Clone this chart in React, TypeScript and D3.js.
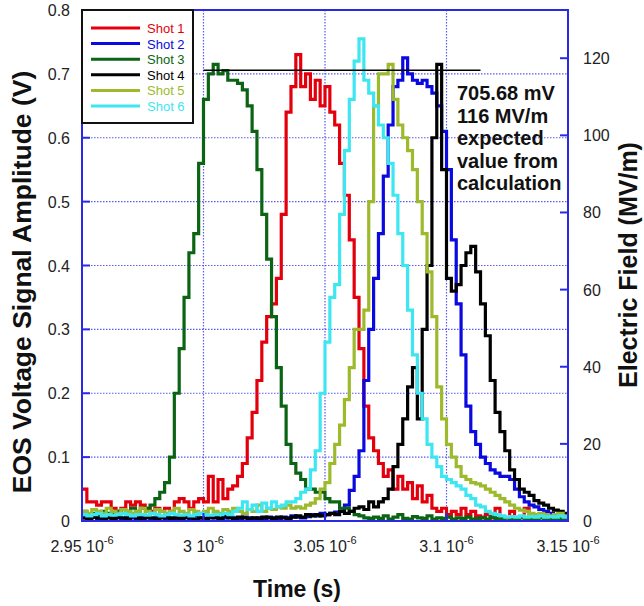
import React from "react";
import * as d3 from "d3";

// time grid (ns), 2 ns sampling from 2950 ns to 3150 ns
const timeNs: number[] = d3.range(2950, 3151, 2);

const shot1: number[] = [
  0.05, 0.03, 0.03, 0.025, 0.03, 0.03, 0.02, 0.015, 0.02, 0.03,
  0.025, 0.03, 0.025, 0.02, 0.015, 0.02, 0.015, 0.02, 0.015, 0.03,
  0.035, 0.03, 0.02, 0.03, 0.035, 0.03, 0.07, 0.03, 0.065, 0.035,
  0.05, 0.055, 0.07, 0.09, 0.13, 0.17, 0.22, 0.28, 0.32, 0.34,
  0.38, 0.48, 0.64, 0.68, 0.73, 0.68, 0.70, 0.66, 0.69, 0.65,
  0.68, 0.64, 0.62, 0.56, 0.51, 0.44, 0.35, 0.27, 0.18, 0.13,
  0.11, 0.09, 0.07, 0.08, 0.05, 0.07, 0.05, 0.06, 0.035, 0.055,
  0.03, 0.04, 0.02, 0.015, 0.02, 0.01, 0.015, 0.01, 0.02, 0.01,
  0.015, 0.008, 0.006, 0.01, 0.005, 0.02, 0.006, 0.005, 0.015, 0.005,
  0.006, 0.02, 0.005, 0.004, 0.01, 0.005, 0.004, 0.008, 0.005, 0.004,
  0.005,
];

const shot2: number[] = [
  0.005, 0.004, 0.006, 0.003, 0.005, 0.008, 0.004, 0.005, 0.003, 0.006,
  0.005, 0.004, 0.007, 0.005, 0.003, 0.005, 0.006, 0.004, 0.005, 0.003,
  0.006, 0.005, 0.004, 0.008, 0.005, 0.003, 0.005, 0.006, 0.004, 0.005,
  0.007, 0.005, 0.004, 0.006, 0.005, 0.003, 0.005, 0.004, 0.006, 0.005,
  0.004, 0.006, 0.005, 0.008, 0.006, 0.005, 0.007, 0.01, 0.008, 0.012,
  0.01, 0.012, 0.014, 0.015, 0.025, 0.048, 0.07, 0.11, 0.22, 0.3,
  0.38, 0.45, 0.54, 0.62, 0.68, 0.69, 0.725, 0.70, 0.69, 0.685,
  0.69, 0.68, 0.67, 0.65, 0.61, 0.55, 0.44, 0.34, 0.26, 0.18,
  0.14, 0.12, 0.1, 0.09, 0.08, 0.075, 0.07, 0.07, 0.065, 0.05,
  0.038, 0.03, 0.025, 0.022, 0.018, 0.015, 0.012, 0.01, 0.008, 0.006,
  0.005,
];

const shot3: number[] = [
  0.015, 0.01, 0.012, 0.01, 0.015, 0.012, 0.01, 0.015, 0.012, 0.015,
  0.02, 0.015, 0.02, 0.02, 0.025, 0.035, 0.045, 0.06, 0.1, 0.2,
  0.27, 0.35, 0.42, 0.45, 0.56, 0.66, 0.70, 0.715, 0.70, 0.705,
  0.69, 0.69, 0.685, 0.675, 0.65, 0.61, 0.55, 0.48, 0.41, 0.32,
  0.24, 0.18, 0.12, 0.09, 0.075, 0.065, 0.05, 0.05, 0.045, 0.045,
  0.035, 0.03, 0.03, 0.02, 0.02, 0.015, 0.01, 0.008, 0.005, 0.004,
  0.006, 0.004, 0.008, 0.003, 0.006, 0.01, 0.004, 0.003, 0.007, 0.005,
  0.004, 0.008, 0.003, 0.005, 0.004, 0.006, 0.003, 0.005, 0.004, 0.006,
  0.003, 0.004, 0.005, 0.003, 0.006, 0.004, 0.003, 0.005, 0.004, 0.003,
  0.005, 0.004, 0.003, 0.004, 0.005, 0.003, 0.004, 0.003, 0.004, 0.005,
  0.003,
];

const shot4: number[] = [
  0.005, 0.004, 0.006, 0.005, 0.003, 0.005, 0.004, 0.006, 0.005, 0.004,
  0.008, 0.005, 0.004, 0.006, 0.005, 0.003, 0.005, 0.006, 0.004, 0.005,
  0.004, 0.006, 0.005, 0.003, 0.005, 0.004, 0.006, 0.005, 0.004, 0.008,
  0.005, 0.004, 0.006, 0.005, 0.003, 0.005, 0.004, 0.006, 0.005, 0.004,
  0.006, 0.005, 0.004, 0.006, 0.008, 0.006, 0.01, 0.008, 0.01, 0.008,
  0.01, 0.012, 0.01, 0.015, 0.012, 0.015, 0.02, 0.022, 0.018, 0.03,
  0.022, 0.03, 0.035, 0.05, 0.085, 0.12, 0.16, 0.21, 0.24, 0.16,
  0.3, 0.4, 0.6, 0.715, 0.55, 0.38, 0.36, 0.37, 0.4, 0.42,
  0.43, 0.39, 0.34, 0.29, 0.22, 0.17, 0.14, 0.11, 0.08, 0.065,
  0.05, 0.045, 0.04, 0.032, 0.028, 0.025, 0.02, 0.017, 0.015, 0.012,
  0.01,
];

const shot5: number[] = [
  0.015, 0.012, 0.018, 0.015, 0.012, 0.02, 0.015, 0.012, 0.018, 0.015,
  0.012, 0.015, 0.02, 0.015, 0.012, 0.018, 0.015, 0.012, 0.015, 0.02,
  0.015, 0.012, 0.018, 0.015, 0.012, 0.015, 0.02, 0.015, 0.012, 0.018,
  0.015, 0.02, 0.015, 0.012, 0.018, 0.015, 0.025, 0.015, 0.02, 0.018,
  0.022, 0.02, 0.025, 0.02, 0.022, 0.02, 0.025, 0.028, 0.035, 0.05,
  0.06, 0.09, 0.12, 0.15, 0.19, 0.24, 0.3, 0.3, 0.33, 0.5,
  0.65, 0.70, 0.70, 0.715, 0.66, 0.62, 0.6, 0.58, 0.55, 0.5,
  0.45, 0.39, 0.32, 0.21, 0.16, 0.12, 0.1, 0.085, 0.07, 0.065,
  0.06, 0.058, 0.055, 0.05, 0.045, 0.04, 0.035, 0.03, 0.025, 0.02,
  0.017, 0.015, 0.012, 0.01, 0.012, 0.01, 0.008, 0.01, 0.012, 0.008,
  0.01,
];

const shot6: number[] = [
  0.01, 0.008, 0.01, 0.012, 0.008, 0.01, 0.009, 0.01, 0.012, 0.01,
  0.008, 0.01, 0.01, 0.009, 0.012, 0.01, 0.008, 0.01, 0.012, 0.01,
  0.009, 0.01, 0.008, 0.01, 0.012, 0.01, 0.009, 0.01, 0.01, 0.012,
  0.01, 0.015, 0.02, 0.03, 0.018, 0.025, 0.015, 0.028, 0.02, 0.03,
  0.022, 0.025, 0.03, 0.03, 0.035, 0.045, 0.05, 0.08, 0.11, 0.2,
  0.28, 0.35, 0.37, 0.48, 0.58, 0.66, 0.72, 0.755, 0.69, 0.67,
  0.65, 0.62, 0.6, 0.56, 0.51, 0.45, 0.4, 0.33, 0.26, 0.2,
  0.16, 0.12, 0.1, 0.085, 0.07, 0.065, 0.06, 0.055, 0.05, 0.04,
  0.035, 0.025, 0.022, 0.015, 0.012, 0.01, 0.008, 0.006, 0.007, 0.006,
  0.008, 0.006, 0.007, 0.006, 0.008, 0.006, 0.007, 0.006, 0.008, 0.006,
  0.007,
];

const seriesNames: string[] = ["Shot 1", "Shot 2", "Shot 3", "Shot 4", "Shot 5", "Shot 6"];
const seriesValues: number[][] = [shot1, shot2, shot3, shot4, shot5, shot6];
const seriesColors: string[] = ["#e3000c", "#0a0ae0", "#0b6414", "#000000", "#9cba2c", "#3ee6f2"];

const xTickValues: number[] = [2950, 3000, 3050, 3100, 3150];
const xTickLabels: string[] = ["2.95", "3", "3.05", "3.1", "3.15"];
const yLeftTicks: number[] = [0, 0.1, 0.2, 0.3, 0.4, 0.5, 0.6, 0.7, 0.8];
const yRightTicks: number[] = [0, 20, 40, 60, 80, 100, 120];

const expectedV = 0.70568;
const expectedLineStartNs = 3000;
const expectedLineEndNs = 3114;
const annotationLines: string[] = ["705.68 mV", "116 MV/m", "expected", "value from", "calculation"];

const W = 644;
const H = 606;
const L = 82, R = 568, T = 10, B = 521;
const FONT = "'Liberation Sans', Arial, Helvetica, sans-serif";
const AXIS_BLUE = "#2a2ae6";
const GRID_BLUE = "#5a5af0";

export default function App() {
  const x = d3.scaleLinear().domain([2950, 3150]).range([L, R]);
  const y = d3.scaleLinear().domain([0, 0.8]).range([B, T]);
  const yR = d3.scaleLinear().domain([0, 132.5]).range([B, T]);

  const line = d3
    .line<number>()
    .x((_, i) => x(timeNs[i]))
    .y((d) => y(d))
    .curve(d3.curveStepAfter);

  const legendRowY = (i: number) => 28 + i * 15.6;

  return (
    <div style={{ position: "absolute", left: 0, top: 0 }}>
      <svg width={W} height={H} style={{ display: "block", background: "#fff" }}>
        <defs>
          <clipPath id="plotClip">
            <rect x={L} y={T} width={R - L} height={B - T} />
          </clipPath>
        </defs>
        <rect x={0} y={0} width={W} height={H} fill="#fff" />

        {/* grid */}
        {xTickValues.slice(1, -1).map((t) => (
          <line key={"gx" + t} x1={x(t)} x2={x(t)} y1={T} y2={B}
            stroke={GRID_BLUE} strokeWidth={1.2} strokeDasharray="1.5,1.5" />
        ))}
        {yLeftTicks.slice(1, -1).map((v) => (
          <line key={"gy" + v} x1={L} x2={R} y1={y(v)} y2={y(v)}
            stroke={GRID_BLUE} strokeWidth={1.2} strokeDasharray="1.5,1.5" />
        ))}

        {/* series */}
        <g clipPath="url(#plotClip)">
          {seriesValues.map((vals, si) => (
            <path key={si} d={line(vals) || ""} fill="none" stroke={seriesColors[si]}
              strokeWidth={3.2} strokeLinejoin="miter" />
          ))}
        </g>

        {/* expected value line */}
        <line x1={x(expectedLineStartNs)} x2={x(expectedLineEndNs)} y1={y(expectedV)} y2={y(expectedV)}
          stroke="#000" strokeWidth={1.3} />

        {/* frame */}
        <rect x={L} y={T} width={R - L} height={B - T} fill="none" stroke={AXIS_BLUE} strokeWidth={2} />

        {/* ticks */}
        {yLeftTicks.map((v) => (
          <line key={"lt" + v} x1={L} x2={L + 8} y1={y(v)} y2={y(v)} stroke={AXIS_BLUE} strokeWidth={2} />
        ))}
        {yRightTicks.map((v) => (
          <line key={"rt" + v} x1={R - 8} x2={R} y1={yR(v)} y2={yR(v)} stroke={AXIS_BLUE} strokeWidth={2} />
        ))}
        {xTickValues.map((t) => (
          <line key={"bt" + t} x1={x(t)} x2={x(t)} y1={B} y2={B - 8} stroke={AXIS_BLUE} strokeWidth={2} />
        ))}

        {/* tick labels */}
        {yLeftTicks.map((v) => (
          <text key={"ll" + v} x={70} y={y(v) + 6} textAnchor="end" fontFamily={FONT} fontSize={16} fill="#222">
            {d3.format("")(+v.toFixed(1))}
          </text>
        ))}
        {yRightTicks.map((v) => (
          <text key={"rl" + v} x={583} y={yR(v) + 6} textAnchor="start" fontFamily={FONT} fontSize={16} fill="#222">
            {v}
          </text>
        ))}
        {xTickValues.map((t, i) => (
          <text key={"xl" + t} x={x(t)} y={552} textAnchor="middle" fontFamily={FONT} fontSize={16} fill="#222">
            {xTickLabels[i] + " 10"}
            <tspan fontSize={11} dy={-8}>-6</tspan>
          </text>
        ))}

        {/* axis titles */}
        <text x={297} y={597} textAnchor="middle" fontFamily={FONT} fontSize={23} fontWeight="bold" fill="#111">
          Time (s)
        </text>
        <text transform={`translate(31,282) rotate(-90)`} textAnchor="middle" fontFamily={FONT} fontSize={26.5}
          fontWeight="bold" fill="#111">
          EOS Voltage Signal Amplitude (V)
        </text>
        <text transform={`translate(637,265) rotate(-90)`} textAnchor="middle" fontFamily={FONT} fontSize={25}
          fontWeight="bold" fill="#111">
          Electric Field (MV/m)
        </text>

        {/* annotation */}
        {annotationLines.map((s, i) => (
          <text key={"an" + i} x={457} y={100 + i * 22.6} fontFamily={FONT} fontSize={20} fontWeight="bold" fill="#111">
            {s}
          </text>
        ))}

        {/* legend */}
        <rect x={82} y={10} width={111} height={113} fill="#fff" stroke="#111" strokeWidth={2} />
        {seriesNames.map((n, i) => (
          <g key={"lg" + i}>
            <line x1={91} x2={140} y1={legendRowY(i)} y2={legendRowY(i)} stroke={seriesColors[i]} strokeWidth={3} />
            <text x={147} y={legendRowY(i) + 5} fontFamily={FONT} fontSize={13} fill={seriesColors[i]}>
              {n}
            </text>
          </g>
        ))}
      </svg>
    </div>
  );
}
